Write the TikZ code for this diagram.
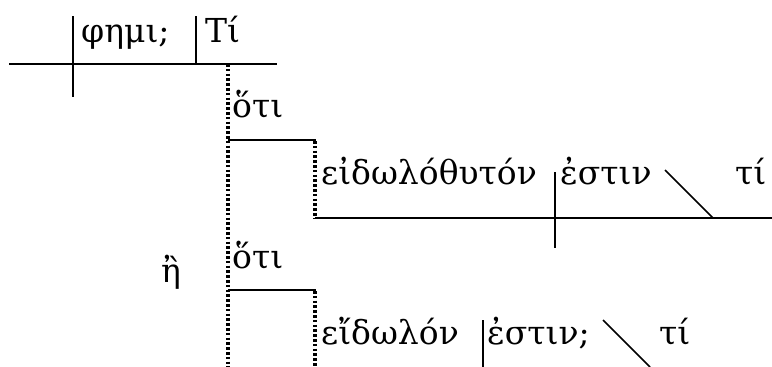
\documentclass[tikz,border=0pt]{standalone}
\usepackage{fontspec}
\setmainfont{DejaVu Serif}
\begin{document}
\begin{tikzpicture}[x=1pt,y={(0,-1pt)},
  ln/.style={line width=1.7pt},
  dotln/.style={line width=3.4pt,dash pattern=on 2.6pt off 2.2pt},
  wd/.style={anchor=base west,inner sep=0pt,font=\fontsize{33}{36}\selectfont}]
\useasboundingbox (0,0) rectangle (772,367);
% top clause
\coordinate (t1) at (9,64);
\coordinate (t2) at (277,64);
\coordinate (sv1) at (73,16);
\coordinate (sv2) at (73,97);
\coordinate (vo1) at (196,16);
\coordinate (vo2) at (196,64);
\draw[ln] (t1) -- (t2);
\draw[ln] (sv1) -- (sv2);
\draw[ln] (vo1) -- (vo2);
\node[wd] (phemi) at (81,42) {φημι;};
\node[wd] (ti1) at (205,42) {Τί};
% main dotted connector
\coordinate (d1) at (228,64);
\coordinate (d2) at (228,367);
\draw[dotln] (d1) -- (d2);
% first clause
\node[wd] (hoti1) at (232,117) {ὅτι};
\coordinate (h1a) at (228,140);
\coordinate (h1b) at (316,140);
\draw[ln] (h1a) -- (h1b);
\coordinate (e1a) at (315,141);
\coordinate (e1b) at (315,218);
\draw[dotln] (e1a) -- (e1b);
\coordinate (b1a) at (315,218);
\coordinate (b1b) at (772,218);
\draw[ln] (b1a) -- (b1b);
\node[wd] (eidolo) at (321,184) {εἰδωλόθυτόν};
\coordinate (v1a) at (555,172);
\coordinate (v1b) at (555,248);
\draw[ln] (v1a) -- (v1b);
\node[wd] (estin1) at (560,184) {ἐστιν};
\coordinate (s1a) at (665,170);
\coordinate (s1b) at (713,218);
\draw[ln] (s1a) -- (s1b);
\node[wd] (ti2) at (735,184) {τί};
% conjunction
\node[wd] (e) at (161,282) {ἢ};
% second clause
\node[wd] (hoti2) at (232,268) {ὅτι};
\coordinate (h2a) at (228,290);
\coordinate (h2b) at (316,290);
\draw[ln] (h2a) -- (h2b);
\coordinate (e2a) at (315,291);
\coordinate (e2b) at (315,367);
\draw[dotln] (e2a) -- (e2b);
\node[wd] (eidolon) at (321,344) {εἴδωλόν};
\coordinate (v2a) at (483,320);
\coordinate (v2b) at (483,367);
\draw[ln] (v2a) -- (v2b);
\node[wd] (estin2) at (487,344) {ἐστιν;};
\coordinate (s2a) at (603,320);
\coordinate (s2b) at (650,367);
\draw[ln] (s2a) -- (s2b);
\node[wd] (ti3) at (659,344) {τί};
\end{tikzpicture}
\end{document}
